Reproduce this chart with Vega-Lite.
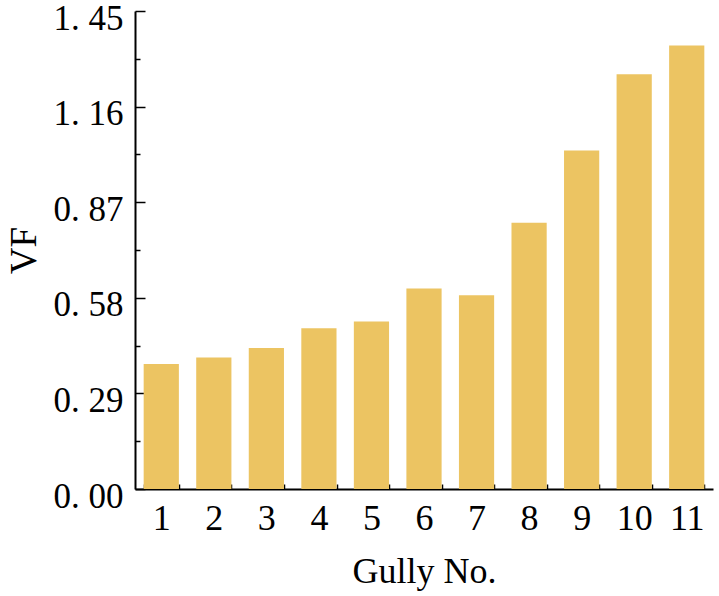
{
  "$schema": "https://vega.github.io/schema/vega-lite/v6.json",
  "autosize": {"type": "none"},
  "padding": {"left": 135, "top": 11, "right": 6, "bottom": 107},
  "width": 578,
  "height": 478,
  "background": "white",
  "config": {"view": {"stroke": null}, "font": "Liberation Serif"},
  "data": {"values": [
    {"gully": "1", "VF": 0.379},
    {"gully": "2", "VF": 0.399},
    {"gully": "3", "VF": 0.428},
    {"gully": "4", "VF": 0.488},
    {"gully": "5", "VF": 0.508},
    {"gully": "6", "VF": 0.608},
    {"gully": "7", "VF": 0.588},
    {"gully": "8", "VF": 0.808},
    {"gully": "9", "VF": 1.027},
    {"gully": "10", "VF": 1.258},
    {"gully": "11", "VF": 1.345}
  ]},
  "mark": {"type": "bar", "color": "#ECC462"},
  "encoding": {
    "x": {
      "field": "gully", "type": "ordinal", "sort": null,
      "scale": {"paddingInner": 0.33, "paddingOuter": 0.165},
      "axis": {
        "title": "Gully No.", "titleFont": "Liberation Serif", "titleFontSize": 36, "titleFontWeight": "normal", "titleColor": "black", "titlePadding": 18,
        "labelFont": "Liberation Serif", "labelFontSize": 36, "labelColor": "black", "labelAngle": 0, "labelPadding": 17,
        "tickBand": "extent", "tickSize": -5, "tickColor": "black", "tickWidth": 1.5,
        "domainColor": "black", "domainWidth": 2
      }
    },
    "y": {
      "field": "VF", "type": "quantitative",
      "scale": {"domain": [0, 1.45], "nice": false, "zero": true},
      "axis": {
        "title": "VF", "titleFont": "Liberation Serif", "titleFontSize": 37, "titleFontWeight": "normal", "titleColor": "black", "titlePadding": 10,
        "values": [0, 0.145, 0.29, 0.435, 0.58, 0.725, 0.87, 1.015, 1.16, 1.305, 1.45],
        "labelExpr": "round(datum.value*100) % 29 == 0 ? replace(format(datum.value, '.2f'), '.', '. ') : ''",
        "labelFont": "Liberation Serif", "labelFontSize": 35, "labelColor": "black", "labelPadding": 22, "labelOffset": 7,
        "labelOverlap": false, "labelBound": false, "labelFlush": false,
        "tickSize": {"condition": {"test": "round(datum.value*100) % 29 == 0", "value": -10}, "value": -5},
        "tickColor": "black", "tickWidth": 1.5,
        "domainColor": "black", "domainWidth": 2, "grid": false
      }
    }
  }
}
